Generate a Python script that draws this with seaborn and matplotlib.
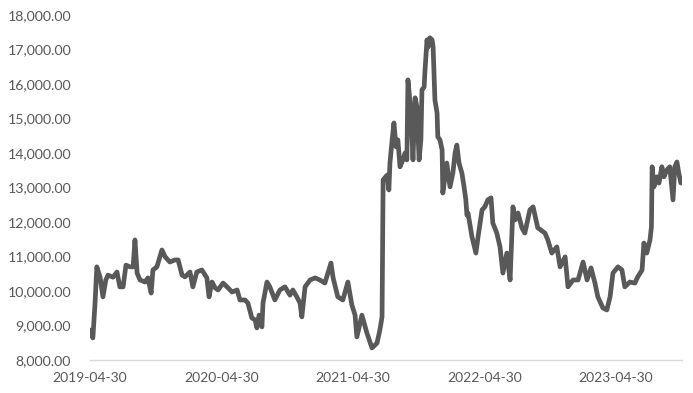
import matplotlib
matplotlib.use("Agg")
import matplotlib.pyplot as plt
import matplotlib.ticker as mticker
import matplotlib.dates as mdates
import seaborn as sns
import pandas as pd

dates = [
    "2019-04-30", "2019-05-08", "2019-05-14", "2019-05-19", "2019-05-28", "2019-06-05", "2019-06-13", "2019-06-19",
    "2019-07-03", "2019-07-14", "2019-07-22", "2019-07-31", "2019-08-08", "2019-08-19", "2019-08-28", "2019-09-02",
    "2019-09-08", "2019-09-16", "2019-09-30", "2019-10-08", "2019-10-17", "2019-10-22", "2019-11-02", "2019-11-16",
    "2019-11-25", "2019-12-08", "2019-12-22", "2019-12-31", "2020-01-11", "2020-01-19", "2020-02-02", "2020-02-10",
    "2020-02-21", "2020-03-06", "2020-03-20", "2020-03-26", "2020-04-03", "2020-04-12", "2020-04-20", "2020-05-04",
    "2020-05-15", "2020-05-29", "2020-06-12", "2020-06-20", "2020-07-04", "2020-07-12", "2020-07-23", "2020-08-01",
    "2020-08-06", "2020-08-12", "2020-08-20", "2020-08-23", "2020-09-03", "2020-09-11", "2020-09-25", "2020-10-09",
    "2020-10-23", "2020-11-06", "2020-11-14", "2020-11-25", "2020-12-04", "2020-12-09", "2020-12-18", "2021-01-01",
    "2021-01-15", "2021-01-28", "2021-02-11", "2021-02-28", "2021-03-06", "2021-03-19", "2021-04-02", "2021-04-16",
    "2021-04-27", "2021-05-06", "2021-05-11", "2021-05-25", "2021-06-08", "2021-06-22", "2021-07-06", "2021-07-14",
    "2021-07-20", "2021-07-23", "2021-08-03", "2021-08-08", "2021-08-11", "2021-08-17", "2021-08-22", "2021-08-28",
    "2021-09-02", "2021-09-08", "2021-09-16", "2021-09-22", "2021-09-27", "2021-09-30", "2021-10-08", "2021-10-14",
    "2021-10-20", "2021-10-25", "2021-10-31", "2021-11-05", "2021-11-08", "2021-11-14", "2021-11-16", "2021-11-22",
    "2021-11-25", "2021-11-30", "2021-12-06", "2021-12-09", "2021-12-14", "2021-12-20", "2021-12-22", "2021-12-28",
    "2022-01-03", "2022-01-05", "2022-01-16", "2022-01-25", "2022-02-02", "2022-02-08", "2022-02-13", "2022-02-19",
    "2022-02-27", "2022-03-05", "2022-03-10", "2022-03-13", "2022-03-16", "2022-03-27", "2022-04-07", "2022-04-13",
    "2022-04-24", "2022-05-02", "2022-05-10", "2022-05-19", "2022-05-24", "2022-06-04", "2022-06-13", "2022-06-21",
    "2022-07-02", "2022-07-11", "2022-07-19", "2022-07-25", "2022-08-02", "2022-08-13", "2022-08-21", "2022-09-04",
    "2022-09-13", "2022-09-26", "2022-10-16", "2022-10-24", "2022-11-04", "2022-11-18", "2022-11-27", "2022-12-11",
    "2022-12-19", "2023-01-02", "2023-01-16", "2023-01-30", "2023-02-10", "2023-02-21", "2023-03-04", "2023-03-12",
    "2023-03-26", "2023-04-06", "2023-04-15", "2023-04-23", "2023-05-07", "2023-05-18", "2023-05-26", "2023-06-09",
    "2023-06-23", "2023-07-01", "2023-07-13", "2023-07-18", "2023-07-26", "2023-08-04", "2023-08-08", "2023-08-10",
    "2023-08-15", "2023-08-23", "2023-08-29", "2023-09-06", "2023-09-12", "2023-09-20", "2023-09-28", "2023-10-07",
    "2023-10-12", "2023-10-18", "2023-10-23", "2023-10-29", "2023-11-01",
]

values = [
    8870, 8640, 9650, 10700, 10400, 9830, 10320, 10460,
    10400, 10550, 10120, 10120, 10750, 10700, 10700, 11480,
    10520, 10320, 10260, 10380, 9940, 10610, 10700, 11190,
    10990, 10840, 10900, 10900, 10460, 10410, 10550, 10120,
    10550, 10610, 10380, 9830, 10260, 10090, 10030, 10230,
    10120, 9970, 10030, 9740, 9740, 9650, 9220, 9160,
    8930, 9300, 8960, 9650, 10260, 10120, 9740, 10030,
    10120, 9880, 10030, 9830, 9650, 9250, 10120, 10320,
    10380, 10320, 10230, 10810, 10380, 9830, 9740, 10260,
    9600, 9300, 8670, 9300, 8780, 8350, 8490, 8870,
    9250, 13220, 13360, 12930, 13710, 14380, 14870, 14180,
    14380, 13600, 13800, 14000, 13800, 16120, 15250, 13800,
    15600, 15330, 13800, 14380, 15830, 15910, 16320, 17280,
    17070, 17340, 17280, 17070, 15540, 15160, 14470, 14380,
    14090, 12840, 13710, 13020, 13420, 14000, 14230, 13710,
    13420, 13020, 12640, 12200, 12260, 11570, 11100, 11570,
    12350, 12440, 12640, 12700, 11970, 11680, 11280, 10520,
    11100, 10320, 12440, 12060, 12260, 11830, 11680, 12350,
    12440, 11830, 11680, 11480, 11100, 11280, 10700, 10990,
    10120, 10320, 10320, 10840, 10320, 10670, 10230, 9830,
    9510, 9450, 9830, 10520, 10700, 10610, 10120, 10260,
    10230, 10410, 10610, 11390, 11100, 11480, 11860, 13600,
    13020, 13310, 13130, 13600, 13310, 13510, 13600, 12640,
    13600, 13740, 13420, 13130, 13220,
]

tick_dates = ["2019-04-30", "2020-04-30", "2021-04-30", "2022-04-30", "2023-04-30"]
y_ticks = [8000, 9000, 10000, 11000, 12000, 13000, 14000, 15000, 16000, 17000, 18000]

df = pd.DataFrame({"date": pd.to_datetime(dates), "value": values})

sns.set_style("white")
plt.rcParams["font.family"] = ["Lato", "DejaVu Sans"]

fig = plt.figure(figsize=(6.93, 3.93), dpi=100)
ax = fig.add_axes([90 / 693, 1 - 360 / 393, (682 - 90) / 693, (360 - 15) / 393])

sns.lineplot(data=df, x="date", y="value", ax=ax, color="#595959", linewidth=3.4,
             solid_joinstyle="round", solid_capstyle="round")

ax.set_xlim(pd.Timestamp("2019-04-30"), pd.Timestamp("2023-11-01"))
ax.set_ylim(8000, 18000)
ax.set_yticks(y_ticks)
ax.yaxis.set_major_formatter(mticker.FuncFormatter(lambda v, p: f"{v:,.2f}"))
ax.set_xticks(pd.to_datetime(tick_dates))
ax.xaxis.set_major_formatter(mdates.DateFormatter("%Y-%m-%d"))

ax.set_xlabel("")
ax.set_ylabel("")
for s in ["top", "right", "left"]:
    ax.spines[s].set_visible(False)
ax.spines["bottom"].set_color("#d9d9d9")
ax.spines["bottom"].set_linewidth(1.0)

ax.tick_params(axis="y", length=0, pad=13.5, labelsize=10.2, labelcolor="#595959")
ax.tick_params(axis="x", length=3, width=1, color="#d9d9d9", pad=6, labelsize=10,
               labelcolor="#595959", direction="out")
ax.grid(False)

fig.savefig("out.png", dpi=100, facecolor="white")
